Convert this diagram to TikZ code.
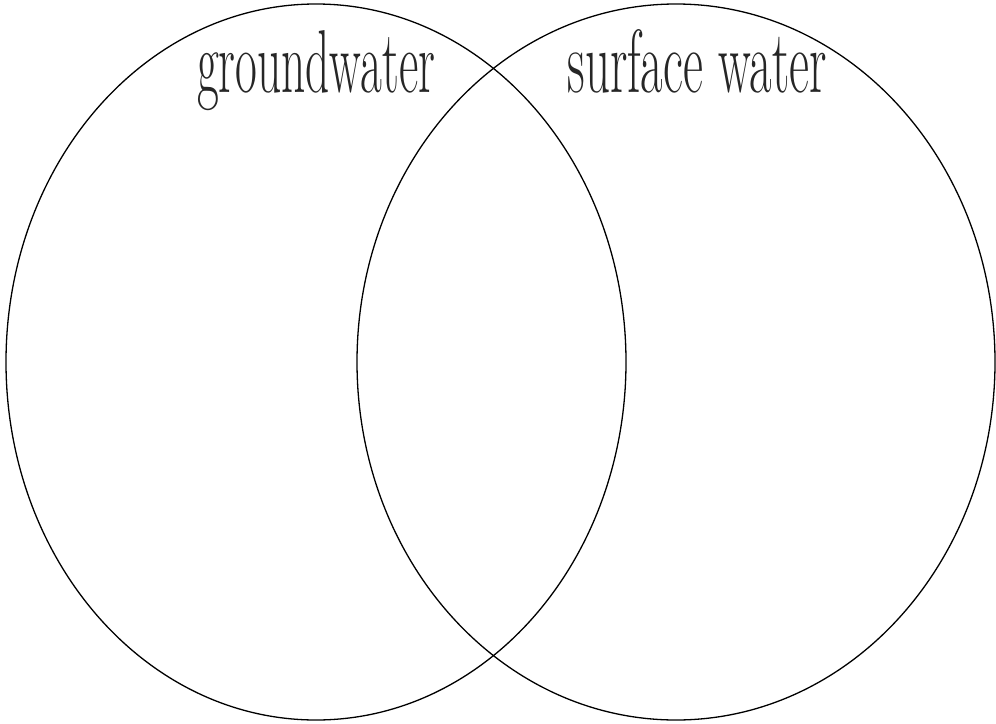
\documentclass[tikz,border=0pt]{standalone}
\usetikzlibrary{shapes.geometric}
\begin{document}
\begin{tikzpicture}[x=1pt,y=-1pt,
  venn/.style={draw=black, line width=1.3pt, ellipse, inner sep=0pt},
  title/.style={anchor=base, inner sep=0pt, text=black!85}]
\useasboundingbox (0,0) rectangle (996,723);
\node[venn, minimum width=620pt, minimum height=716pt] (gw) at (316,362) {};
\node[venn, minimum width=638pt, minimum height=716pt] (sw) at (676,362) {};
\node[title] (gwt) at (316,92) {\resizebox{238pt}{62pt}{\fontsize{40}{44}\selectfont groundwater}};
\node[title] (swt) at (697,92) {\resizebox{259pt}{63pt}{\fontsize{40}{44}\selectfont surface water}};
\end{tikzpicture}
\end{document}
